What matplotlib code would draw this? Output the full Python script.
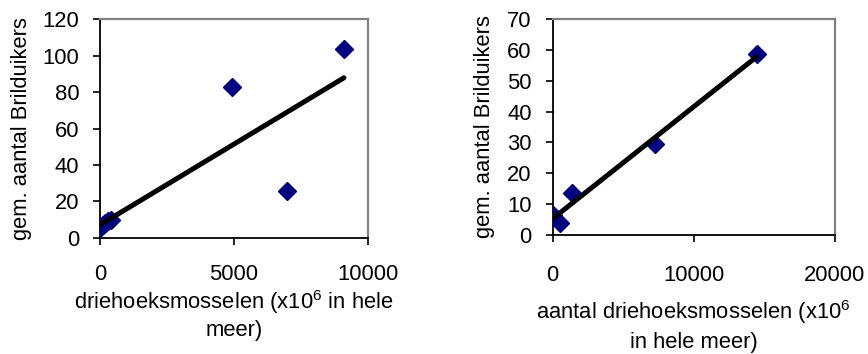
import numpy as np
import matplotlib
matplotlib.use("Agg")
import matplotlib.pyplot as plt

plt.rcParams["font.family"] = ["Liberation Sans", "DejaVu Sans"]
plt.rcParams["mathtext.fontset"] = "custom"
plt.rcParams["mathtext.rm"] = "Liberation Sans"
plt.rcParams["mathtext.it"] = "Liberation Sans"

# mussels (x10^6) vs mean number of goldeneyes, two periods
mussels_a = [0, 100, 200, 300, 400, 4920, 6970, 9100]
birds_a = [5.5, 7, 8, 9.5, 10, 82.6, 26, 103.5]

mussels_b = [0, 500, 1350, 7250, 14450]
birds_b = [6.5, 3.8, 13.5, 29.5, 58.6]

ylabel = "gem. aantal Brilduikers"
xlabel_a = "driehoeksmosselen (x10$^6$ in hele\nmeer)"
xlabel_b = "aantal driehoeksmosselen (x10$^6$\nin hele meer)"

fs = 15.8

fig = plt.figure(figsize=(8.68, 3.54), dpi=100)
ax1 = fig.add_axes([0.1152, 0.3277, 0.3088, 0.6186])
ax2 = fig.add_axes([0.6367, 0.3362, 0.3252, 0.6102])


def draw(ax, x, y, xmax, ymax, xstep, ystep, xlab, xlab_y, ylab_x, xpad, lsp):
    x = np.array(x)
    y = np.array(y)
    slope, icpt = np.polyfit(x, y, 1)
    xs = np.array([x.min(), x.max()])
    ax.plot(x, y, "D", color="#000080", markersize=9, zorder=3)
    ax.plot(xs, slope * xs + icpt, color="black", linewidth=3.6,
            solid_capstyle="round", zorder=4)
    ax.set_xlim(0, xmax)
    ax.set_ylim(0, ymax)
    ax.set_xticks(np.arange(0, xmax + 1, xstep))
    ax.set_yticks(np.arange(0, ymax + 1, ystep))
    ax.tick_params(direction="out", length=5, width=1.2, labelsize=fs)
    ax.tick_params(axis="x", pad=xpad)
    ax.tick_params(axis="y", pad=10)
    for s in ["left", "bottom"]:
        ax.spines[s].set_color("black")
        ax.spines[s].set_linewidth(1.3)
    for s in ["top", "right"]:
        ax.spines[s].set_color("#808080")
        ax.spines[s].set_linewidth(1.6)
    ax.set_ylabel(ylabel, fontsize=fs)
    ax.yaxis.set_label_coords(ylab_x, 0.5)
    ax.set_xlabel(xlab, fontsize=fs, linespacing=lsp)
    ax.xaxis.set_label_coords(0.5, xlab_y)


draw(ax1, mussels_a, birds_a, 10000, 120, 5000, 20, xlabel_a, -0.228, -0.254, 14, 1.25)
draw(ax2, mussels_b, birds_b, 20000, 70, 10000, 10, xlabel_b, -0.29, -0.204, 16.5, 1.4)

fig.savefig("out.png", dpi=100)
